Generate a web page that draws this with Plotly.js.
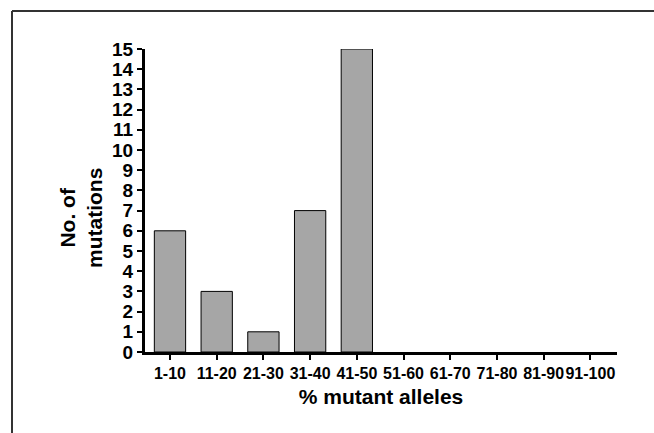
<!DOCTYPE html>
<html>
<head>
<meta charset="utf-8">
<script src="https://cdn.plot.ly/plotly-3.0.1.min.js"></script>
<style>
html,body{margin:0;padding:0;background:#fff;}
#chart{width:654px;height:433px;}
</style>
</head>
<body>
<div id="chart"></div>
<script>
var categories = ["1-10","11-20","21-30","31-40","41-50","51-60","61-70","71-80","81-90","91-100"];
var mutations = [6, 3, 1, 7, 15, 0, 0, 0, 0, 0];
var yTicks = [0,1,2,3,4,5,6,7,8,9,10,11,12,13,14,15];

var W = 654, H = 433;
var L = 145, R = 617, T = 49, B = 352;
function px(x){ return (x - L) / (R - L); }
function py(y){ return (B - y) / (B - T); }

var font = "Liberation Sans, Arial, sans-serif";

var trace = {
  type: "bar",
  x: categories,
  y: mutations,
  marker: {color: "#a6a6a6", line: {color: "#000", width: mutations.map(function(v){ return v > 0 ? 1 : 0; })}},
  hoverinfo: "x+y"
};

var layout = {
  width: W, height: H,
  margin: {l: L, r: W - R, t: T, b: H - B, pad: 0},
  paper_bgcolor: "#fff",
  plot_bgcolor: "#fff",
  showlegend: false,
  bargap: 0.33,
  font: {family: font, color: "#000"},
  xaxis: {
    type: "category",
    range: [-0.535, 9.57],
    showline: true, linecolor: "#000", linewidth: 3,
    ticks: "outside", ticklen: 5, tickwidth: 2, tickcolor: "#000",
    tickangle: 0,
    showgrid: false, zeroline: false,
    tickfont: {family: font, size: 16, color: "#000", weight: "bold"},
    title: {text: "<b>% mutant alleles</b>", font: {family: font, size: 21, color: "#000"}, standoff: 9}
  },
  yaxis: {
    range: [0, 15],
    tickvals: yTicks,
    ticktext: yTicks.map(String),
    showline: true, linecolor: "#000", linewidth: 3,
    ticks: "outside", ticklen: 5, tickwidth: 2, tickcolor: "#000",
    showgrid: false, zeroline: false,
    tickfont: {family: font, size: 19, color: "#000", weight: "bold"}
  },
  annotations: [{
    xref: "paper", yref: "paper",
    x: px(81), y: py(218),
    xanchor: "center", yanchor: "middle",
    text: "<b>No. of<br>mutations</b>",
    textangle: -90,
    showarrow: false,
    font: {family: font, size: 21, color: "#000"}
  }],
  shapes: [
    {type: "line", xref: "paper", yref: "paper", x0: px(12), x1: px(660), y0: py(11), y1: py(11), line: {color: "#333", width: 2}},
    {type: "line", xref: "paper", yref: "paper", x0: px(12), x1: px(12), y0: py(11), y1: py(440), line: {color: "#333", width: 2}}
  ]
};

Plotly.newPlot("chart", [trace], layout, {displayModeBar: false, staticPlot: true});
</script>
</body>
</html>
